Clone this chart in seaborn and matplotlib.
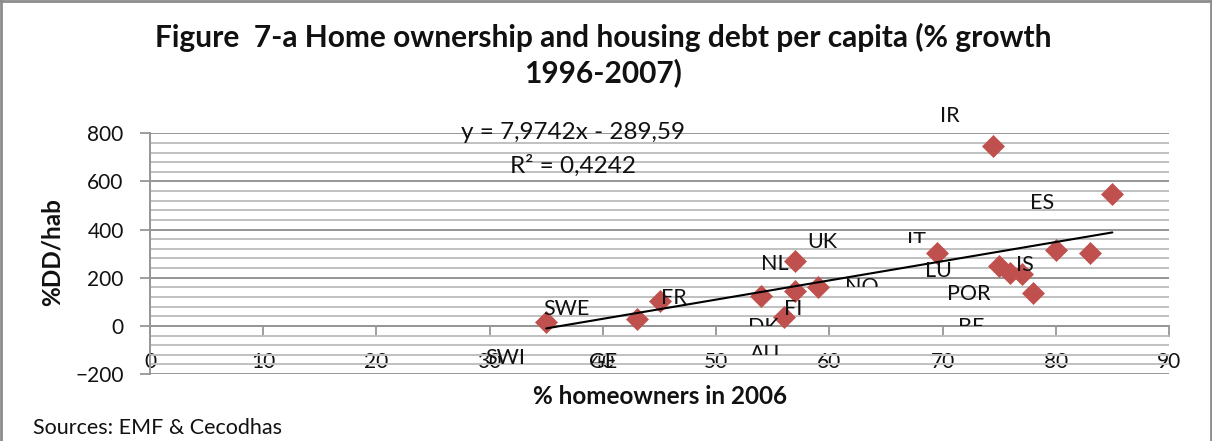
import numpy as np
import pandas as pd
import matplotlib
matplotlib.use("Agg")
import matplotlib.pyplot as plt
from matplotlib.lines import Line2D
from matplotlib.transforms import Bbox, TransformedBbox
import seaborn as sns

# ---- data ----
homeowners_2006 = [35, 43, 45, 54, 56, 57, 57, 59, 69.5, 74.5, 75, 76, 77, 78, 80, 83, 85]
debt_growth = [15, 30, 105, 125, 35, 269, 145, 162, 301, 748, 250, 218, 215, 137, 315, 304, 546]
country_labels = ["SWE", "SWI", "GE", "FR", "DK", "AU", "NL", "UK", "FI", "NO",
                  "IT", "LU", "IS", "POR", "BE", "ES", "IR"]
trend_slope = 7.9742
trend_intercept = -289.59
equation_text = "y = 7,9742x - 289,59"
r2_text = "R² = 0,4242"
x_ticks = list(range(0, 91, 10))
y_ticks = list(range(-200, 801, 200))
title_line1 = "Figure  7-a Home ownership and housing debt per capita (% growth"
title_line2 = "1996-2007)"
x_title = "% homeowners in 2006"
y_title = "%DD/hab"
source_text = "Sources: EMF & Cecodhas"

# ---- label layout (text centre in data units, optional lower clip) ----
label_layout = {
    "SWE": (36.8, 69, None),
    "SWI": (31.4, -134, None),
    "GE": (40.0, -152, None),
    "FR": (46.3, 114, None),
    "DK": (54.2, -4, 0),
    "AU": (54.3, -115, -120),
    "NL": (55.2, 255, None),
    "UK": (59.4, 350, None),
    "FI": (56.8, 70, None),
    "NO": (62.9, 163, 160),
    "IT": (67.7, 352, 345),
    "LU": (69.6, 228, None),
    "IS": (77.3, 252, None),
    "POR": (72.3, 131, None),
    "BE": (72.5, -4, 0),
    "ES": (78.8, 510, None),
    "IR": (70.6, 870, None),
}

sns.set_theme(style="white")
plt.rcParams["font.family"] = ["Lato", "DejaVu Sans"]
TXT = "#111111"

df = pd.DataFrame({"x": homeowners_2006, "y": debt_growth})

fig = plt.figure(figsize=(12.12, 4.41), dpi=100)
ax = fig.add_axes([0.1238, 0.1519, 0.8407, 0.5458])

# grid
ax.set_xlim(0, 90)
ax.set_ylim(-200, 800)
ax.set_yticks(y_ticks)
ax.set_yticks(np.arange(-200, 801, 40), minor=True)
ax.set_xticks(x_ticks)
ax.grid(which="minor", axis="y", color="#C0C0C0", lw=1.4)
ax.grid(which="major", axis="y", color="#969696", lw=1.4)
ax.grid(which="major", axis="x", visible=False)
ax.set_axisbelow(True)

# spines
for s in ["top", "right"]:
    ax.spines[s].set_visible(False)
ax.spines["bottom"].set_position(("data", 0))
ax.spines["bottom"].set_color("#969696")
ax.spines["bottom"].set_linewidth(1.4)
ax.spines["left"].set_color("#969696")
ax.spines["left"].set_linewidth(1.4)

ax.tick_params(axis="x", which="major", direction="out", length=8, width=1.3,
               color="#969696", pad=11, labelsize=15, labelcolor=TXT, bottom=True)
ax.tick_params(axis="y", which="major", direction="out", length=7, width=1.3,
               color="#969696", pad=12, labelsize=15, labelcolor=TXT, left=True)
ax.tick_params(axis="y", which="minor", length=0)

# points
sns.scatterplot(data=df, x="x", y="y", marker="D", s=125, color="#C0504D",
                edgecolor="#C0504D", linewidth=0.5, ax=ax, zorder=4, clip_on=False)

# trend line
x_fit = np.array([min(homeowners_2006), max(homeowners_2006)])
y_fit = trend_slope * x_fit + trend_intercept
sns.lineplot(x=x_fit, y=y_fit, color="black", lw=1.5, ax=ax, zorder=5)

ax.set_xlabel("")
ax.set_ylabel("")

# data labels
for lab in country_labels:
    lx, ly, clip = label_layout[lab]
    t = ax.text(lx, ly, lab, ha="center", va="center", fontsize=15.5, color=TXT, zorder=6)
    if clip is not None:
        t.set_clip_on(True)
        t.set_clip_box(TransformedBbox(Bbox([[-10, clip], [120, 3000]]), ax.transData))
    else:
        t.set_clip_on(False)

# equation
ax.text(37.4, 803, equation_text, ha="center", va="center", fontsize=17.5, color=TXT, zorder=6, clip_on=False)
ax.text(37.4, 665, r2_text, ha="center", va="center", fontsize=17.5, color=TXT, zorder=6, clip_on=False)

# titles
fig.text(603 / 1212, 1 - 37 / 441, title_line1, ha="center", va="center",
         fontsize=21.5, fontweight="bold", color=TXT)
fig.text(603 / 1212, 1 - 73 / 441, title_line2, ha="center", va="center",
         fontsize=21.5, fontweight="bold", color=TXT)
fig.text(52 / 1212, 1 - 252 / 441, y_title, rotation=90, ha="center", va="center",
         fontsize=17.5, fontweight="bold", color=TXT)
fig.text(660 / 1212, 1 - 396 / 441, x_title, ha="center", va="center",
         fontsize=17.5, fontweight="bold", color=TXT)
fig.text(33 / 1212, 1 - 428 / 441, source_text, ha="left", va="center",
         fontsize=15.5, color=TXT)

# chart border (left, top, right)
bc = "#8C8C8C"
fig.add_artist(Line2D([0.0012, 0.0012], [0, 0.999], transform=fig.transFigure, color=bc, lw=2))
fig.add_artist(Line2D([0, 1], [0.998, 0.998], transform=fig.transFigure, color=bc, lw=2))
fig.add_artist(Line2D([0.9988, 0.9988], [0, 0.999], transform=fig.transFigure, color=bc, lw=2))

fig.savefig("out.png", dpi=100, facecolor="white")
